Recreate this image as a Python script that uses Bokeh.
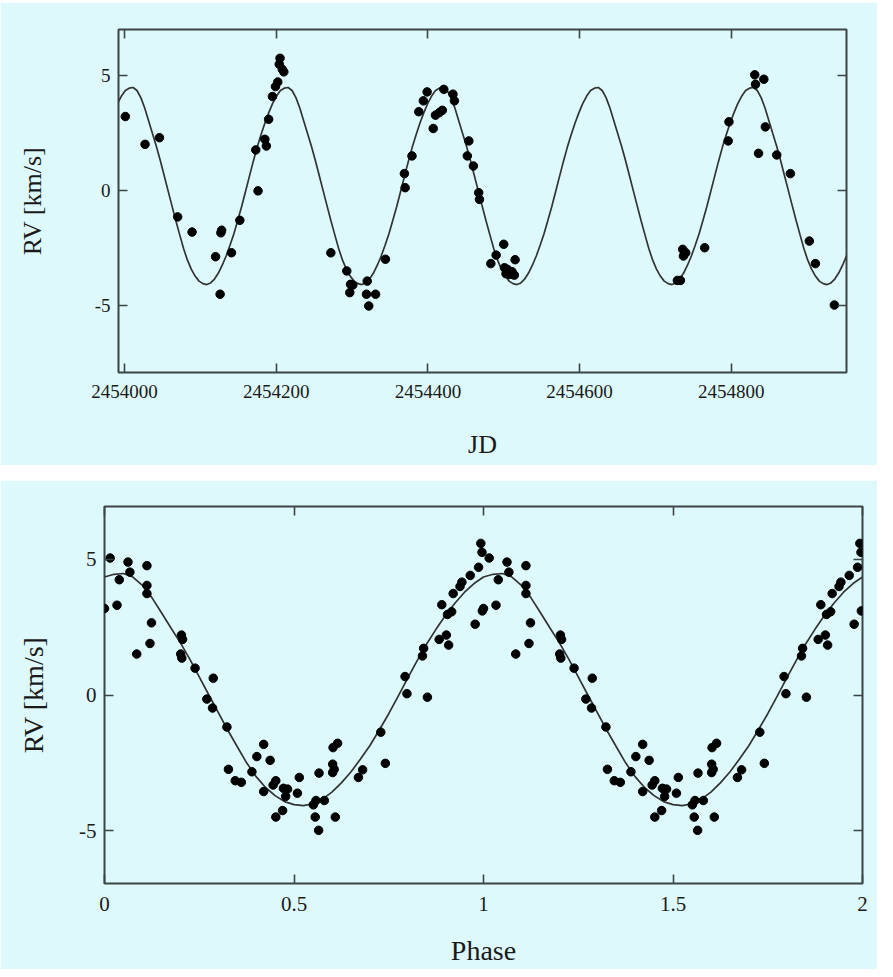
import numpy as np
from bokeh.plotting import figure
from bokeh.models import LinearAxis, FixedTicker, Range1d, Spacer
from bokeh.layouts import column
from bokeh.embed import file_html
from bokeh.resources import INLINE

# ---------------- data ----------------
# Top panel: radial velocity vs Julian Date
jd = [2454001, 2454027, 2454046, 2454070, 2454089, 2454120, 2454127, 2454128,
      2454126, 2454141, 2454152, 2454176, 2454173, 2454185, 2454187, 2454190,
      2454195, 2454199, 2454202, 2454205, 2454204, 2454208, 2454210,
      2454272, 2454293, 2454298, 2454297, 2454301, 2454320, 2454319, 2454331,
      2454322, 2454344, 2454369, 2454370, 2454379, 2454388, 2454394, 2454399,
      2454407, 2454410, 2454415, 2454419, 2454421, 2454433, 2454435, 2454452,
      2454454, 2454460, 2454467, 2454468, 2454483, 2454490, 2454500, 2454501,
      2454503, 2454505, 2454508, 2454511, 2454514, 2454515,
      2454729, 2454733, 2454736, 2454737, 2454740, 2454765, 2454796, 2454797,
      2454831, 2454832, 2454843, 2454836, 2454845, 2454860, 2454878, 2454903,
      2454911, 2454936]
rv_jd = [3.22, 2.01, 2.30, -1.14, -1.80, -2.87, -1.83, -1.72,
         -4.50, -2.70, -1.29, -0.01, 1.77, 2.23, 1.94, 3.10,
         4.09, 4.52, 4.72, 5.75, 5.49, 5.27, 5.16,
         -2.70, -3.49, -4.07, -4.43, -4.10, -3.93, -4.50, -4.50,
         -5.01, -2.98, 0.74, 0.13, 1.51, 3.43, 3.90, 4.29,
         2.70, 3.28, 3.39, 3.49, 4.40, 4.19, 3.90, 1.51,
         2.16, 1.07, -0.09, -0.38, -3.17, -2.80, -2.33, -3.35,
         -3.61, -3.42, -3.64, -3.52, -3.67, -3.00,
         -3.90, -3.90, -2.55, -2.84, -2.70, -2.48, 2.16, 2.99,
         5.03, 4.62, 4.84, 1.62, 2.77, 1.55, 0.74, -2.19,
         -3.17, -4.97]

# Bottom panel: same measurements folded on the period (one cycle, shown twice)
phase = [0.000, 0.015, 0.033, 0.039, 0.062, 0.067, 0.085, 0.112, 0.112, 0.112,
         0.124, 0.120, 0.203, 0.206, 0.201, 0.204, 0.239, 0.287, 0.270, 0.285,
         0.323, 0.327, 0.345, 0.361, 0.389, 0.402, 0.420, 0.437, 0.420, 0.445,
         0.452, 0.472, 0.483, 0.478, 0.470, 0.452, 0.509, 0.514, 0.551, 0.558,
         0.580, 0.556, 0.565, 0.609, 0.566, 0.602, 0.606, 0.602, 0.603, 0.615,
         0.670, 0.681, 0.729, 0.741, 0.793, 0.798, 0.852, 0.842, 0.839, 0.883,
         0.902, 0.908, 0.890, 0.905, 0.916, 0.920, 0.938, 0.943, 0.965, 0.987,
         0.996, 0.993, 0.978, 0.997]
rv_phase = [3.19, 5.05, 3.31, 4.25, 4.90, 4.53, 1.51, 4.77, 4.04, 3.74,
            2.66, 1.90, 2.21, 2.05, 1.51, 1.36, 0.99, 0.62, -0.15, -0.48,
            -1.18, -2.74, -3.16, -3.22, -2.83, -2.27, -1.82, -2.41, -3.56, -3.32,
            -3.16, -3.44, -3.47, -3.74, -4.26, -4.50, -3.62, -3.04, -4.05, -3.89,
            -3.89, -4.50, -4.99, -4.50, -2.88, -2.86, -2.74, -2.55, -1.94, -1.78,
            -3.04, -2.76, -1.37, -2.52, 0.68, 0.05, -0.08, 1.72, 1.44, 2.05,
            2.21, 1.84, 3.33, 2.97, 3.07, 3.74, 4.00, 4.16, 4.41, 4.71,
            5.26, 5.59, 2.61, 3.10]

# Orbit model curve (one cycle)
model_phase = [0.000, 0.025, 0.050, 0.075, 0.100, 0.125, 0.150, 0.175, 0.200, 0.225,
               0.250, 0.275, 0.300, 0.325, 0.350, 0.375, 0.400, 0.425, 0.450, 0.475,
               0.500, 0.525, 0.550, 0.575, 0.600, 0.625, 0.650, 0.675, 0.700, 0.725,
               0.750, 0.775, 0.800, 0.825, 0.850, 0.875, 0.900, 0.925, 0.950, 0.975,
               1.000]
model_rv = [4.35, 4.45, 4.48, 4.35, 4.04, 3.59, 3.04, 2.48, 1.93, 1.32,
            0.67, 0.01, -0.64, -1.29, -1.90, -2.50, -3.01, -3.41, -3.71, -3.93,
            -4.04, -4.08, -4.01, -3.84, -3.58, -3.24, -2.84, -2.37, -1.87, -1.29,
            -0.69, -0.04, 0.62, 1.27, 1.88, 2.43, 2.94, 3.39, 3.79, 4.11,
            4.35]
period = 204.5
epoch = 2454001.0       # JD of phase 0

jd_ticks = [2454000, 2454200, 2454400, 2454600, 2454800]
rv_ticks = [-5, 0, 5]
phase_ticks = [0, 0.5, 1, 1.5, 2]
phase_tick_labels = ["0", "0.5", "1", "1.5", "2"]

# ---------------- styling ----------------
BG = "#ddf9fb"
FRAME = "#3c4545"
FONT = "Liberation Serif"
TXT = "#1a1a1a"


def add_axes(p, xticks, xlabels, yticks, ylabels, xname, yname,
             tick_size, label_size, xl_standoff, yl_standoff, xs, ys):
    specs = [
        ("below", xticks, xlabels, xname, xs, xl_standoff),
        ("left", yticks, ylabels, yname, ys, yl_standoff),
        ("above", xticks, [""] * len(xticks), None, 0, 0),
        ("right", yticks, [""] * len(yticks), None, 0, 0),
    ]
    for place, ticks, labels, name, ms, ls in specs:
        ax = LinearAxis(ticker=FixedTicker(ticks=ticks),
                        major_label_overrides={t: l for t, l in zip(ticks, labels)})
        ax.axis_line_color = None
        ax.major_tick_in = 9
        ax.major_tick_out = 0
        ax.major_tick_line_color = FRAME
        ax.major_tick_line_width = 1.6
        ax.minor_tick_line_color = None
        ax.major_label_text_font = FONT
        ax.major_label_text_color = TXT
        ax.major_label_standoff = ms
        if name is None:
            ax.major_label_text_font_size = "1px"
        else:
            ax.major_label_text_font_size = f"{tick_size}px"
            ax.axis_label = name
            ax.axis_label_text_font = FONT
            ax.axis_label_text_font_style = "normal"
            ax.axis_label_text_font_size = f"{label_size}px"
            ax.axis_label_text_color = TXT
            ax.axis_label_standoff = ls
        p.add_layout(ax, place)


def make_fig(h, xr, yr, bl, br, bt, bb):
    p = figure(width=877, height=h, x_range=xr, y_range=yr,
               output_backend="svg", toolbar_location=None,
               x_axis_type=None, y_axis_type=None,
               background_fill_color=BG, border_fill_color=BG,
               min_border_left=bl, min_border_right=br,
               min_border_top=bt, min_border_bottom=bb)
    p.outline_line_color = FRAME
    p.outline_line_width = 2
    return p


# ---------------- top panel: RV vs JD ----------------
p1 = make_fig(463, Range1d(2453992, 2454952), Range1d(-7.9, 7.0), 118, 31, 27, 93)
mp = np.array(model_phase)
mr = np.array(model_rv)
cyc_x, cyc_y = [], []
for k in range(-1, 6):
    cyc_x.extend(list(epoch + period * (k + mp[:-1])))
    cyc_y.extend(list(mr[:-1]))
p1.line(cyc_x, cyc_y, line_color="#333333", line_width=1.7)
p1.scatter(jd, rv_jd, size=8.5, fill_color="black", line_color="black")
add_axes(p1, jd_ticks, [str(t) for t in jd_ticks], rv_ticks, ["-5", "0", "5"],
         "JD", "RV [km/s]", 19, 26, 29, 45, 12, 8)

# ---------------- bottom panel: RV vs phase ----------------
p2 = make_fig(489, Range1d(0, 2), Range1d(-6.95, 6.95), 104, 15, 26, 86)
px = list(mp[:-1]) + list(mp + 1.0)
py = list(mr[:-1]) + list(mr)
p2.line(px, py, line_color="#333333", line_width=1.7)
ph2 = list(phase) + [v + 1.0 for v in phase]
rv2 = list(rv_phase) + list(rv_phase)
p2.scatter(ph2, rv2, size=8.5, fill_color="black", line_color="black")
add_axes(p2, phase_ticks, phase_tick_labels, rv_ticks, ["-5", "0", "5"],
         "Phase", "RV [km/s]", 21, 28, 21, 27, 13, 8)

# two separate roots so that Bokeh does not align the two plot frames;
# the lower panel runs to the bottom edge of the window like the original
root1 = column(Spacer(width=877, height=2), p1)
root2 = column(Spacer(width=877, height=15), p2, styles={"margin-bottom": "-8px"})

open("out.html", "w").write(file_html([root1, root2], INLINE))
